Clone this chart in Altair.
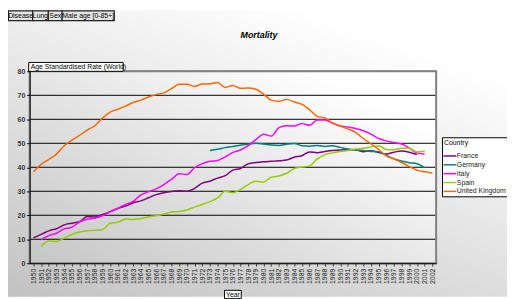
import altair as alt
import pandas as pd

# ---------------- data ----------------
years = list(range(1950, 2003))
countries = ["France", "Germany", "Italy", "Spain", "United Kingdom"]
colors = ["#800080", "#008080", "#FF00FF", "#99CC00", "#FF6600"]

france = [10.6, 12.0, 13.5, 14.4, 16.0, 16.7, 17.3, 19.5, 19.3, 20.3,
          21.5, 22.8, 23.8, 25.2, 26.0, 27.3, 28.6, 29.4, 29.9, 30.2,
          30.0, 31.2, 33.4, 34.2, 35.5, 36.5, 38.8, 39.5, 41.5, 42.0,
          42.3, 42.5, 42.7, 43.0, 44.2, 44.8, 46.4, 46.1, 46.6, 47.0,
          47.2, 47.3, 47.3, 46.5, 46.9, 46.2, 45.5, 46.3, 46.8, 46.3,
          45.3, None, None]
germany = [None] * 23 + [
          47.0, 47.5, 48.2, 48.7, 49.2, 49.6, 50.0,
          49.7, 49.3, 49.1, 49.6, 49.9, 49.0, 48.8, 49.1, 48.7, 49.0,
          48.3, 47.6, 47.2, 47.0, 46.6, 46.5, 45.0, 43.5, 42.6, 41.9,
          41.5, 39.8, None]
italy = [None, 9.8, 11.5, 12.5, 14.3, 15.0, 17.2, 18.3, 18.8, 19.8,
         21.5, 23.0, 24.5, 25.8, 28.5, 29.8, 31.0, 32.8, 35.0, 37.3,
         37.0, 39.8, 41.5, 42.5, 42.8, 44.3, 46.2, 47.2, 49.0, 51.5,
         53.8, 53.0, 56.5, 57.3, 57.2, 58.2, 57.5, 59.7, 59.7, 58.3,
         57.2, 56.8, 56.2, 55.2, 53.8, 52.0, 51.0, 50.3, 49.7, 48.0,
         46.0, 45.5, None]
spain = [None, 7.1, 9.3, 9.1, 10.5, 12.0, 13.0, 13.5, 13.8, 14.0,
         16.7, 17.1, 18.4, 18.2, 18.6, 19.3, 19.8, 20.5, 21.4, 21.6,
         22.2, 23.4, 24.5, 25.7, 27.2, 30.0, 29.4, 30.8, 32.8, 34.2,
         33.8, 35.9, 36.4, 37.5, 39.5, 40.1, 40.6, 43.5, 45.3, 46.0,
         46.6, 47.0, 47.6, 47.9, 48.5, 49.0, 47.4, 47.3, 47.9, 47.9,
         46.4, 46.8, None]
uk = [38.1, 41.2, 43.3, 45.5, 49.0, 51.3, 53.3, 55.5, 57.3, 60.5,
      63.0, 64.2, 65.5, 67.0, 68.0, 69.3, 70.3, 71.0, 72.8, 74.6,
      74.6, 73.7, 74.7, 74.8, 75.3, 73.3, 74.1, 72.9, 73.0, 72.5,
      70.5, 68.0, 67.5, 68.3, 67.2, 66.2, 64.0, 61.2, 60.6, 58.5,
      57.2, 56.0, 54.5, 52.0, 49.8, 47.4, 44.8, 43.5, 42.0, 40.3,
      38.8, 38.1, 37.6]

y_ticks = [0, 10, 20, 30, 40, 50, 60, 70, 80]
grid_values = [10, 20, 30, 40, 50, 60, 70, 80]
buttons = ["Disease", "Lung", "Sex", "Male age [0-85+]"]

rows = []
for name, vals in zip(countries, [france, germany, italy, spain, uk]):
    for yr, v in zip(years, vals):
        if v is not None:
            rows.append({"Year": yr, "Country": name, "Rate": v})
df = pd.DataFrame(rows)

# ---------------- layout ----------------
FONT = "Liberation Sans"
W, H = 413, 195
PL, PT, PR, PB = 22, 62, 72, 34
one = pd.DataFrame({"a": [0]})

x_enc = alt.X("Year:O", scale=alt.Scale(type="point", padding=0.5),
              axis=alt.Axis(title=None, labelAngle=-90, labelFontSize=7,
                            labelColor="#222", tickSize=3, tickColor="#444",
                            domainColor="black", labelPadding=2, grid=False,
                            labelOverlap=False, zindex=1))
y_scale = alt.Scale(domain=[0, 80], nice=False)

outer_bg = alt.Chart(one).mark_rect(
    clip=False,
    fill=alt.Gradient(gradient="linear",
                      stops=[alt.GradientStop(color="#c2c2c2", offset=0),
                             alt.GradientStop(color="#ffffff", offset=1)],
                      x1=0, y1=1, x2=0.6, y2=0)
).encode(x=alt.value(-PL), x2=alt.value(W + PR), y=alt.value(-PT), y2=alt.value(H + PB))

plot_bg = alt.Chart(one).mark_rect(
    fill=alt.Gradient(gradient="linear",
                      stops=[alt.GradientStop(color="#c6c6c6", offset=0),
                             alt.GradientStop(color="#ffffff", offset=1)],
                      x1=0, y1=1, x2=0.9, y2=0.2)
).encode(x=alt.value(0), x2=alt.value(W), y=alt.value(0), y2=alt.value(H))

border = alt.Chart(one).mark_rect(filled=False, stroke="#808080", strokeWidth=2).encode(
    x=alt.value(0), x2=alt.value(W), y=alt.value(0), y2=alt.value(H))

y_axis = alt.Axis(title=None, values=y_ticks, tickCount=9, grid=False, labelFontSize=7,
                  labelFontWeight="bold", labelColor="#333", tickSize=3,
                  tickColor="black", domainColor="black", labelPadding=2,
                  labelOverlap=False, zindex=1)

grid = alt.Chart(pd.DataFrame({"g": grid_values})).mark_rule(color="black", strokeWidth=1).encode(
    y=alt.Y("g:Q", scale=y_scale, axis=y_axis), x=alt.value(0), x2=alt.value(W))

lines = alt.Chart(df).mark_line(strokeWidth=1.5, interpolate="monotone").encode(
    x=x_enc,
    y=alt.Y("Rate:Q", scale=y_scale, axis=y_axis),
    color=alt.Color("Country:N", scale=alt.Scale(domain=countries, range=colors),
                    legend=alt.Legend(title="Country", orient="none", legendX=419, legendY=67,
                                      titleFontSize=7, titleFontWeight="normal", titleFont=FONT,
                                      titleColor="black",
                                      labelFontSize=7, labelFont=FONT, labelColor="#222",
                                      symbolType="M-1.3,0H1.3", symbolSize=100,
                                      symbolStrokeWidth=1.5, strokeColor="black",
                                      fillColor="white", padding=2, rowPadding=0,
                                      titlePadding=4, labelOffset=1)),
)

deco = []
# title
deco.append(alt.Chart(one).mark_text(text="Mortality", fontSize=9, fontWeight="bold",
                                     fontStyle="italic", font=FONT, clip=False).encode(
    x=alt.value(233), y=alt.value(-37)))
# y-axis title box
deco.append(alt.Chart(one).mark_rect(fill="white", stroke="black", strokeWidth=1, clip=False).encode(
    x=alt.value(-1), x2=alt.value(95), y=alt.value(-9), y2=alt.value(0)))
deco.append(alt.Chart(one).mark_text(text="Age Standardised Rate (World)", fontSize=7, font=FONT,
                                     align="left", baseline="middle", clip=False).encode(
    x=alt.value(1), y=alt.value(-4.3)))
# x-axis title box
deco.append(alt.Chart(one).mark_rect(fill="white", stroke="black", strokeWidth=1, clip=False).encode(
    x=alt.value(198), x2=alt.value(215), y=alt.value(222.5), y2=alt.value(231)))
deco.append(alt.Chart(one).mark_text(text="Year", fontSize=7, font=FONT,
                                     align="center", baseline="middle", clip=False).encode(
    x=alt.value(206.5), y=alt.value(227)))
# legend title separator
deco.append(alt.Chart(one).mark_rule(color="black", strokeWidth=1, clip=False).encode(
    x=alt.value(419), x2=alt.value(490), y=alt.value(77.5)))
# field buttons
btn_left = [-21.5, 3, 19, 33]
btn_right = [3, 19, 33, 86]
for lab, l, r in zip(buttons, btn_left, btn_right):
    deco.append(alt.Chart(one).mark_rect(fill="#e4e4e4", stroke="#222", strokeWidth=1.2, clip=False).encode(
        x=alt.value(l), x2=alt.value(r), y=alt.value(-61.5), y2=alt.value(-51.5)))
    deco.append(alt.Chart(one).mark_text(text=lab, fontSize=7, font=FONT, align="center",
                                         baseline="middle", clip=False).encode(
        x=alt.value((l + r) / 2), y=alt.value(-56.3)))

chart = alt.layer(outer_bg, plot_bg, grid, border, lines, *deco).properties(
    width=W, height=H,
    autosize=alt.AutoSizeParams(type="none"),
    padding={"left": PL, "top": PT, "right": PR, "bottom": PB},
).configure(font=FONT).configure_view(stroke=None)

chart.save("out.html", embed_options={"renderer": "svg", "actions": False})
